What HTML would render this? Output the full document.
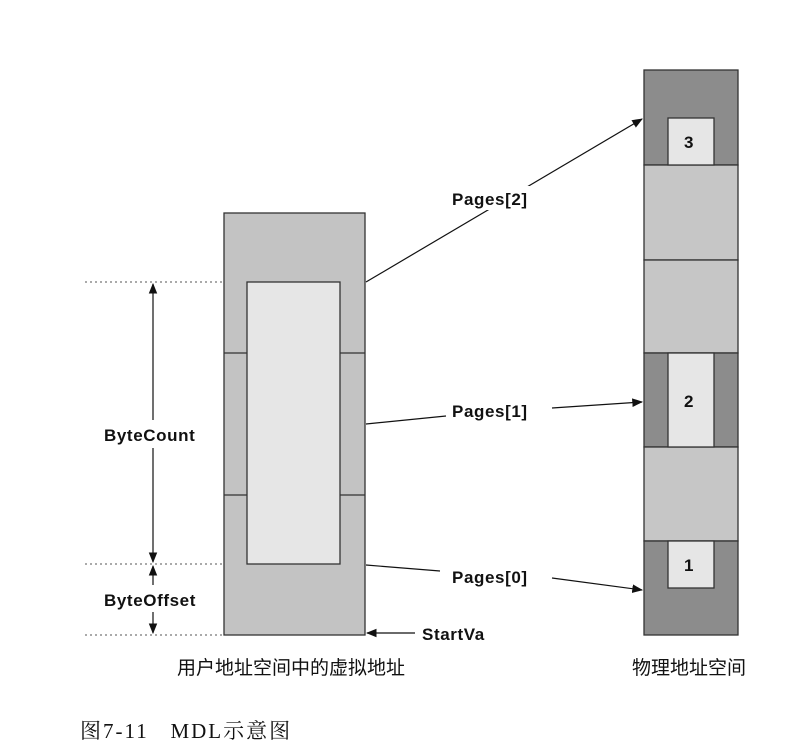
<!DOCTYPE html>
<html><head><meta charset="utf-8"><style>
body{margin:0;background:#fff;width:805px;height:748px;overflow:hidden}
</style></head><body>
<svg width="805" height="748" xmlns="http://www.w3.org/2000/svg" font-family="Liberation Sans, Noto Sans CJK SC, sans-serif">
<defs><marker id="a" viewBox="0 0 10 10" refX="9" refY="5" markerWidth="9" markerHeight="9" orient="auto-start-reverse"><path d="M0,1 L10,5 L0,9 z" fill="#111"/></marker></defs>
<g stroke="#333" stroke-width="1.3">
<rect x="224" y="213" width="141" height="422" fill="#c3c3c3"/>
<line x1="224" y1="353" x2="365" y2="353"/>
<line x1="224" y1="495" x2="365" y2="495"/>
<rect x="247" y="282" width="93" height="282" fill="#e6e6e6"/>
<rect x="644" y="70" width="94" height="95" fill="#8c8c8c"/>
<rect x="644" y="165" width="94" height="95" fill="#c6c6c6"/>
<rect x="644" y="260" width="94" height="93" fill="#c6c6c6"/>
<rect x="644" y="353" width="94" height="94" fill="#8c8c8c"/>
<rect x="644" y="447" width="94" height="94" fill="#c6c6c6"/>
<rect x="644" y="541" width="94" height="94" fill="#8c8c8c"/>
<rect x="668" y="118" width="46" height="47" fill="#e6e6e6"/>
<rect x="668" y="353" width="46" height="94" fill="#e6e6e6"/>
<rect x="668" y="541" width="46" height="47" fill="#e6e6e6"/>
</g>
<g stroke="#555" stroke-dasharray="2,3" stroke-width="1">
<line x1="85" y1="282" x2="224" y2="282"/><line x1="85" y1="564" x2="224" y2="564"/><line x1="85" y1="635" x2="224" y2="635"/>
</g>
<g stroke="#111" stroke-width="1.2" fill="none">
<line x1="153" y1="420" x2="153" y2="284" marker-end="url(#a)"/>
<line x1="153" y1="448" x2="153" y2="562" marker-end="url(#a)"/>
<line x1="153" y1="585" x2="153" y2="566" marker-end="url(#a)"/>
<line x1="153" y1="612" x2="153" y2="633" marker-end="url(#a)"/>
<line x1="366" y1="282" x2="642" y2="119" marker-end="url(#a)"/>
<line x1="366" y1="424" x2="446" y2="416"/>
<line x1="552" y1="408" x2="642" y2="402" marker-end="url(#a)"/>
<line x1="366" y1="565" x2="440" y2="571"/>
<line x1="552" y1="578" x2="642" y2="590" marker-end="url(#a)"/>
<line x1="415" y1="633" x2="367" y2="633" marker-end="url(#a)"/>
</g>
<rect x="448" y="186" width="92" height="24" fill="#fff"/>
<g font-weight="bold" font-size="17" fill="#111" letter-spacing="0.6">
<text x="452" y="205">Pages[2]</text>
<text x="452" y="417">Pages[1]</text>
<text x="452" y="583">Pages[0]</text>
<text x="422" y="640">StartVa</text>
<text x="104" y="441">ByteCount</text>
<text x="104" y="606">ByteOffset</text>
<text x="684" y="148">3</text>
<text x="684" y="407">2</text>
<text x="684" y="571">1</text>
</g>
<g font-size="19" fill="#111">
<text x="291" y="674" text-anchor="middle">用户地址空间中的虚拟地址</text>
<text x="689" y="674" text-anchor="middle">物理地址空间</text>
</g>
<text x="80" y="738" font-size="21" font-family="Liberation Serif, Noto Serif CJK SC, serif" fill="#111" letter-spacing="2" xml:space="preserve">图7-11   MDL示意图</text>
</svg>
</body></html>
